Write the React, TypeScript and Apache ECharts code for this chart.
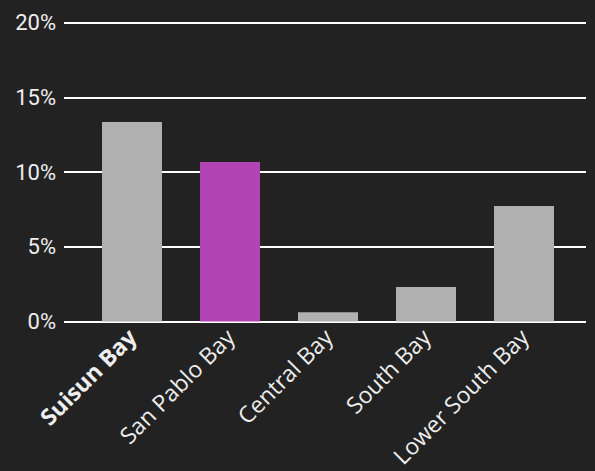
import React, { useEffect, useRef } from "react";
import * as echarts from "echarts";

const categories = ["Suisun Bay", "San Pablo Bay", "Central Bay", "South Bay", "Lower South Bay"];
const values = [13.35, 10.67, 0.62, 2.3, 7.72];
const highlightIndex = 1;
const boldIndex = 0;
const yTicks = [0, 5, 10, 15, 20];

export default function App() {
  const ref = useRef<HTMLDivElement>(null);
  useEffect(() => {
    if (!ref.current) return;
    const chart = echarts.init(ref.current, null, { renderer: "svg" });
    const yMin = yTicks[0];
    const yMax = yTicks[yTicks.length - 1];
    const interval = yTicks[1] - yTicks[0];
    chart.setOption({
      animation: false,
      backgroundColor: "#222222",
      grid: [
        { left: 64, right: 9, top: 22.5, bottom: 149.5, containLabel: false, outerBoundsMode: "none" },
        { left: 83, right: 22, top: 22.5, bottom: 149.5, containLabel: false, outerBoundsMode: "none" },
      ],
      xAxis: [
        { gridIndex: 0, type: "category", data: categories, show: false },
        {
          gridIndex: 1,
          type: "category",
          data: categories.map((c, i) =>
            i === boldIndex ? { value: c, textStyle: { fontWeight: "bold" } } : c
          ),
          axisLine: { show: false },
          axisTick: { show: false },
          axisLabel: {
            rotate: 45,
            margin: 11,
            color: "#eeeeee",
            fontSize: 23,
            fontFamily: "Open Sans",
            interval: 0,
          },
        },
      ],
      yAxis: [
        {
          gridIndex: 0,
          type: "value",
          min: yMin,
          max: yMax,
          interval,
          axisLine: { show: false },
          axisTick: { show: false },
          axisLabel: {
            formatter: "{value}%",
            color: "#eeeeee",
            fontSize: 22,
            fontFamily: "Roboto",
            margin: 8,
          },
          splitLine: { lineStyle: { color: "#ffffff", width: 2 } },
        },
        {
          gridIndex: 1,
          type: "value",
          min: yMin,
          max: yMax,
          interval,
          show: false,
          splitLine: { show: false },
        },
      ],
      series: [
        {
          type: "bar",
          xAxisIndex: 1,
          yAxisIndex: 1,
          barWidth: 60,
          data: values.map((v, i) => ({
            value: v,
            itemStyle: { color: i === highlightIndex ? "#b344b3" : "#b0b0b0" },
          })),
        },
      ],
    });
    return () => chart.dispose();
  }, []);
  return (
    <div
      ref={ref}
      style={{ position: "absolute", left: 0, top: 0, width: 595, height: 471 }}
    />
  );
}
